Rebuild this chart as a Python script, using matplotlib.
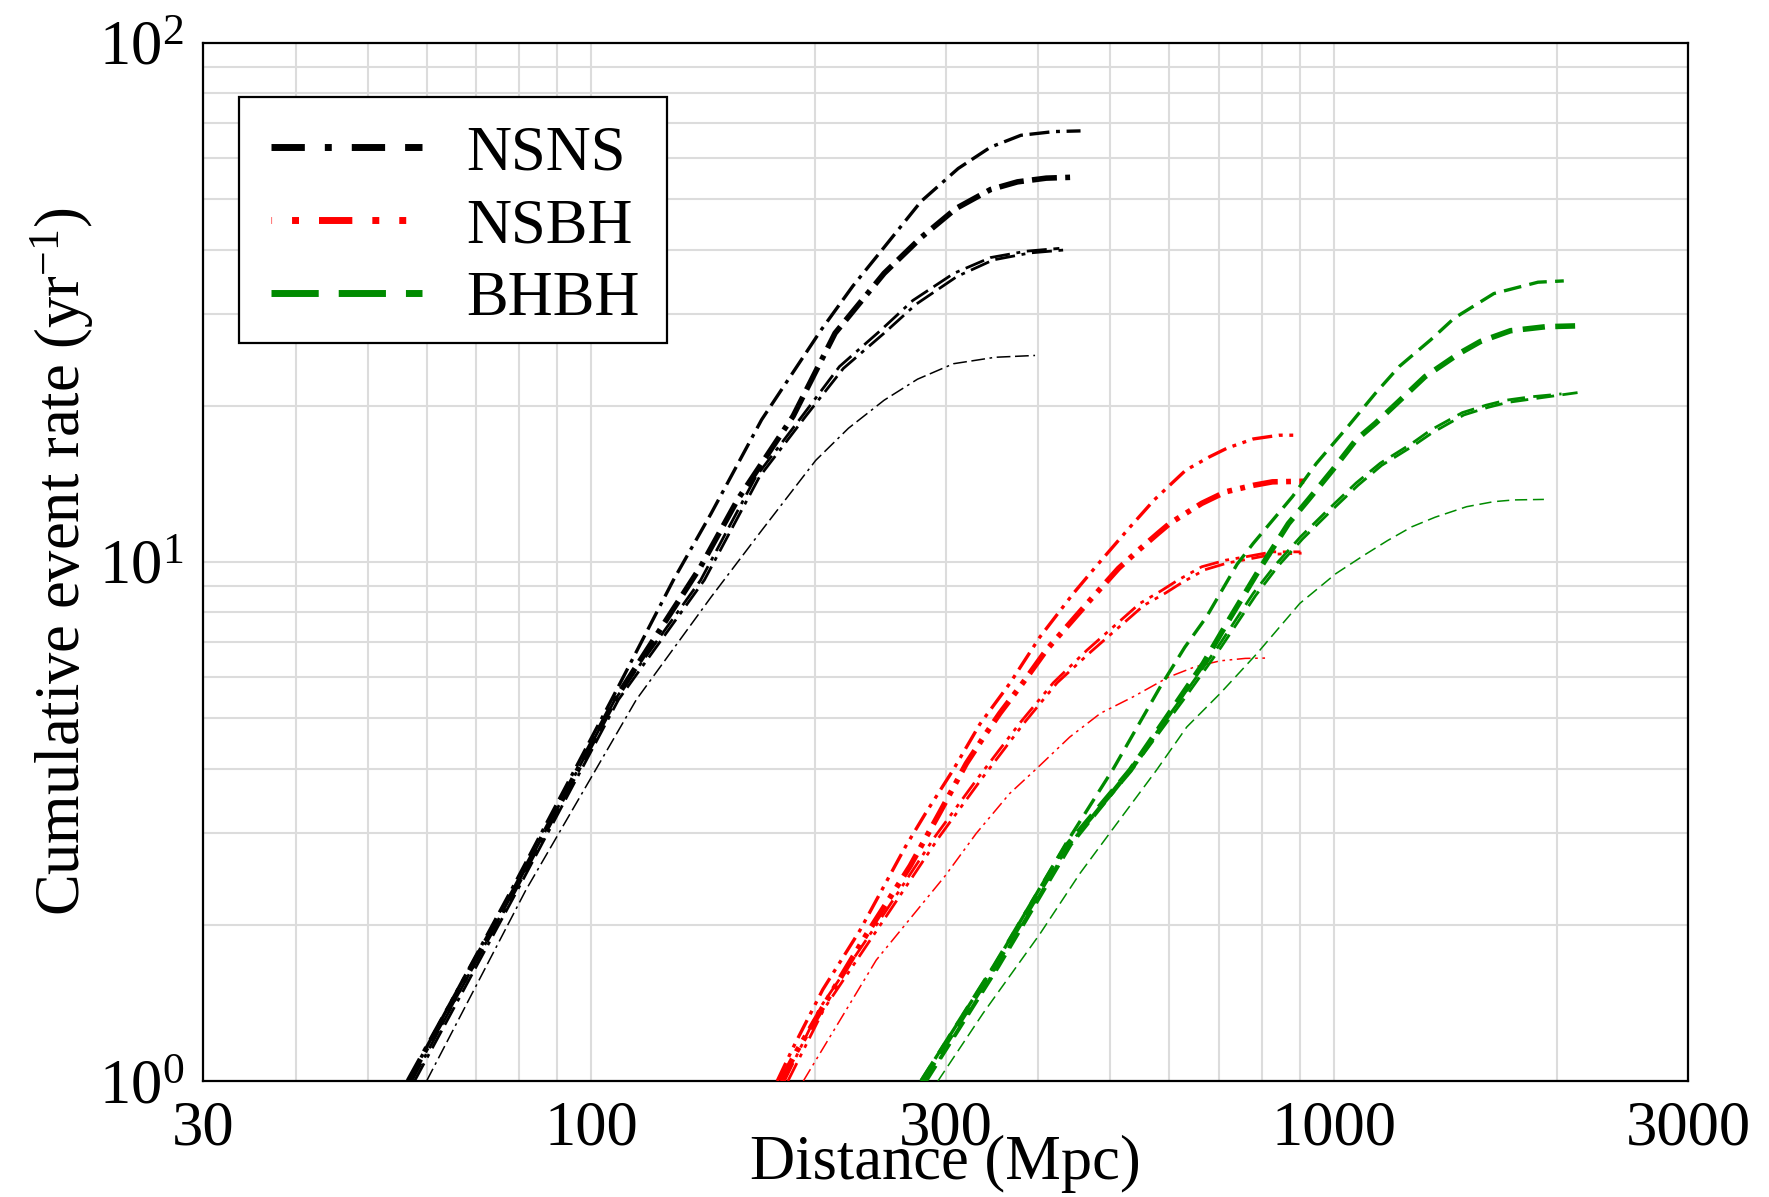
import matplotlib
matplotlib.use("Agg")
import matplotlib.pyplot as plt
from matplotlib.lines import Line2D
from matplotlib.patches import Rectangle
from matplotlib.ticker import FixedLocator, NullFormatter, LogFormatterMathtext

plt.rcParams['font.family'] = ['Liberation Serif', 'DejaVu Serif']
plt.rcParams['mathtext.fontset'] = 'custom'
plt.rcParams['mathtext.rm'] = 'Liberation Serif'
plt.rcParams['mathtext.it'] = 'Liberation Serif:italic'
plt.rcParams['mathtext.bf'] = 'Liberation Serif:bold'
plt.rcParams['lines.scale_dashes'] = False

# ---------------- data (distance in Mpc, cumulative rate in 1/yr) ----------------
# NSNS
nsns_a_x = [56.7, 78.0, 106.5, 129, 145, 169.6, 204, 225, 248, 278, 312, 345, 379, 420, 456]
nsns_a_y = [1.0, 2.33, 5.43, 9.23, 12.4, 18.8, 28.0, 34.0, 40.4, 49.5, 57.3, 63.0, 66.4, 67.5, 67.7]
nsns_b_x = [56.7, 78.7, 107.6, 140.4, 157.5, 187, 213, 248, 278.7, 310, 345, 375, 410, 442]
nsns_b_y = [1.0, 2.33, 5.43, 9.80, 13.2, 19.1, 27.6, 36.0, 42.3, 48.0, 52.2, 54.0, 54.9, 55.1]
nsns_c_x = [57.3, 78.7, 107.6, 140.4, 166.6, 192.3, 215.9, 245, 271, 308, 345, 385, 427]
nsns_c_y = [1.0, 2.33, 5.43, 9.23, 14.6, 19.1, 23.8, 27.9, 31.9, 36.0, 38.6, 39.7, 40.2]
nsns_c2_x = [57.8, 79.5, 108.8, 142, 168.5, 194.5, 218.5, 248, 274, 311, 348, 390, 432]
nsns_c2_y = [1.0, 2.33, 5.43, 9.23, 14.6, 19.1, 23.6, 27.6, 31.4, 35.5, 38.2, 39.4, 39.9]
nsns_d_x = [60.0, 81.6, 115, 145, 169.6, 200.6, 222, 248, 275, 307.5, 350, 396]
nsns_d_y = [1.0, 2.33, 5.43, 8.56, 11.5, 15.7, 18.1, 20.5, 22.5, 24.1, 24.8, 25.0]

# NSBH
nsbh_e_x = [178, 187, 205, 230, 265, 282, 307, 334, 366, 402, 446, 480, 532, 573, 632, 680, 719, 779, 844, 892]
nsbh_e_y = [1.0, 1.16, 1.50, 1.95, 2.83, 3.28, 3.97, 4.88, 5.83, 7.17, 8.70, 9.86, 11.69, 13.17, 15.03, 15.94, 16.58, 17.26, 17.55, 17.55]
nsbh_f_x = [180, 189, 210, 235, 269, 295, 320, 339, 355, 382, 410.6, 472, 513, 546, 580, 602, 664, 715, 779, 827, 918]
nsbh_f_y = [1.0, 1.14, 1.47, 1.92, 2.60, 3.30, 4.09, 4.64, 5.11, 5.87, 6.78, 8.51, 9.72, 10.54, 11.36, 11.88, 12.97, 13.65, 14.05, 14.27, 14.31]
nsbh_g_x = [182, 203, 249, 290, 330.5, 378, 419, 465, 548, 587, 617, 664, 715, 760, 827, 902]
nsbh_g_y = [1.0, 1.38, 2.12, 2.95, 3.81, 4.90, 5.85, 6.76, 8.32, 8.82, 9.23, 9.79, 10.08, 10.23, 10.46, 10.46]
nsbh_g2_x = [184, 206, 252, 294, 335, 383, 424, 470, 555, 594, 624, 670, 720, 765, 830, 905]
nsbh_g2_y = [1.0, 1.38, 2.12, 2.95, 3.81, 4.90, 5.85, 6.70, 8.25, 8.72, 9.12, 9.66, 9.96, 10.12, 10.35, 10.40]
nsbh_h_x = [193, 242, 300, 330, 366, 398, 441, 485, 537, 599, 650, 703, 760, 812]
nsbh_h_y = [1.0, 1.71, 2.49, 3.0, 3.58, 4.0, 4.60, 5.11, 5.50, 6.0, 6.28, 6.45, 6.52, 6.53]

# BHBH
bhbh_i_x = [278, 350, 436, 505, 584, 630, 674, 741, 779, 880, 947, 1045, 1138, 1225, 1351, 1453, 1643, 1884, 2041]
bhbh_i_y = [1.0, 1.68, 2.87, 4.0, 5.75, 6.85, 7.84, 9.9, 10.86, 13.37, 15.47, 18.24, 21.14, 23.8, 26.8, 29.5, 32.9, 34.6, 34.8]
bhbh_j_x = [279, 349, 436, 532, 600, 667, 725, 798, 869, 925, 995, 1072, 1138, 1255, 1327, 1474, 1576, 1730, 1930, 2114]
bhbh_j_y = [1.0, 1.66, 2.83, 3.97, 5.1, 6.37, 7.8, 9.79, 11.86, 13.2, 15.0, 17.2, 18.5, 21.1, 22.75, 25.2, 26.6, 27.9, 28.4, 28.5]
bhbh_k_x = [282, 352, 440, 532, 621, 700, 779, 838, 902, 982, 1072, 1155, 1274, 1351, 1490, 1604, 1707, 1838, 2027]
bhbh_k_y = [1.0, 1.66, 2.85, 4.0, 5.42, 6.9, 8.70, 9.94, 11.18, 12.6, 14.2, 15.5, 16.92, 17.96, 19.4, 20.05, 20.5, 20.8, 21.08]
bhbh_k2_x = [283, 354, 443, 536, 626, 705, 785, 843, 908, 988, 1078, 1160, 1280, 1358, 1497, 1612, 1715, 1845, 2130]
bhbh_k2_y = [1.0, 1.66, 2.85, 4.0, 5.40, 6.85, 8.62, 9.85, 11.08, 12.48, 14.05, 15.35, 16.75, 17.75, 19.2, 19.85, 20.3, 20.6, 21.2]
bhbh_l_x = [293, 337, 402, 455, 510, 577, 634, 703, 788, 900, 1007, 1098, 1182, 1274, 1370, 1510, 1643, 1749, 1919]
bhbh_l_y = [1.0, 1.35, 1.92, 2.51, 3.13, 3.97, 4.81, 5.58, 6.66, 8.32, 9.5, 10.3, 11.0, 11.69, 12.2, 12.78, 13.07, 13.17, 13.2]

legend_labels = ["NSNS", "NSBH", "BHBH"]
x_ticks = [30, 100, 300, 1000, 3000]
x_ticklabels = ["30", "100", "300", "1000", "3000"]

# ---------------- styles ----------------
BLACK = "black"
RED = "#ff0000"
GREEN = "#008b00"

fig = plt.figure(figsize=(17.69, 11.97), dpi=100)
ax = fig.add_axes([0.1148, 0.0969, 0.8394, 0.8672])
ax.set_xscale("log")
ax.set_yscale("log")
ax.set_xlim(30, 3000)
ax.set_ylim(1, 100)

def dd(s, pat):
    return [p * s for p in pat]

dashdot = [18, 6, 3.5, 6, 18, 6]
dashdotdot = [18, 6, 3.5, 6, 3.5, 6]
dashed = [16, 7.5]

curves = [
    # NSNS
    (nsns_a_x, nsns_a_y, BLACK, 2.4, dd(0.8, dashdot)),
    (nsns_b_x, nsns_b_y, BLACK, 4.0, dd(1.0, dashdot)),
    (nsns_c_x, nsns_c_y, BLACK, 2.0, dd(0.8, dashdot)),
    (nsns_c2_x, nsns_c2_y, BLACK, 2.0, dd(0.8, dashdot)),
    (nsns_d_x, nsns_d_y, BLACK, 1.1, dd(0.55, dashdot)),
    # NSBH
    (nsbh_e_x, nsbh_e_y, RED, 2.4, dd(0.8, dashdotdot)),
    (nsbh_f_x, nsbh_f_y, RED, 4.0, dd(1.0, dashdotdot)),
    (nsbh_g_x, nsbh_g_y, RED, 2.0, dd(0.8, dashdotdot)),
    (nsbh_g2_x, nsbh_g2_y, RED, 2.0, dd(0.8, dashdotdot)),
    (nsbh_h_x, nsbh_h_y, RED, 1.1, dd(0.55, dashdotdot)),
    # BHBH
    (bhbh_i_x, bhbh_i_y, GREEN, 2.4, dd(0.8, dashed)),
    (bhbh_j_x, bhbh_j_y, GREEN, 4.0, dd(1.0, dashed)),
    (bhbh_k_x, bhbh_k_y, GREEN, 2.0, dd(0.8, dashed)),
    (bhbh_k2_x, bhbh_k2_y, GREEN, 2.0, dd(0.8, dashed)),
    (bhbh_l_x, bhbh_l_y, GREEN, 1.1, dd(0.55, dashed)),
]
for x, y, c, lw, pat in curves:
    ax.plot(x, y, color=c, lw=lw, dashes=pat, dash_capstyle="butt", zorder=3)

# ---------------- grid / ticks ----------------
ax.xaxis.set_major_locator(FixedLocator(x_ticks))
ax.set_xticklabels(x_ticklabels)
minor_x = [v * m for v in (10, 100, 1000) for m in range(2, 10) if 30 < v * m < 3000]
ax.xaxis.set_minor_locator(FixedLocator(minor_x))
ax.xaxis.set_minor_formatter(NullFormatter())
ax.yaxis.set_major_locator(FixedLocator([1, 10, 100]))
ax.yaxis.set_major_formatter(LogFormatterMathtext())
ax.yaxis.set_minor_locator(FixedLocator([v * m for v in (1, 10) for m in range(2, 10)]))
ax.yaxis.set_minor_formatter(NullFormatter())

ax.grid(True, which="both", color="#dcdcdc", lw=1.5, zorder=0)
ax.set_axisbelow(True)
ax.tick_params(which="both", length=0)
ax.tick_params(axis="x", labelsize=45, pad=14)
ax.tick_params(axis="y", labelsize=45, pad=14)
for s in ax.spines.values():
    s.set_linewidth(1.6)
    s.set_color("black")

ax.set_xlabel("Distance (Mpc)", fontsize=45, labelpad=-17)
ax.set_ylabel("Cumulative event rate (yr$^{-1}$)", fontsize=45, labelpad=2)

# ---------------- legend ----------------
frame = Rectangle((0.0242, 0.7109), 0.3125 - 0.0242, 0.9479 - 0.7109, transform=ax.transAxes,
                  facecolor="white", edgecolor="black", lw=1.6, zorder=5)
ax.add_patch(frame)
handles = [
    Line2D([0], [0], color=BLACK, lw=5, linestyle=(0, (24, 14.4, 5, 14.4, 24, 14.4)), dash_capstyle="butt"),
    Line2D([0], [0], color=RED, lw=5, linestyle=(43, (24, 14.4, 5, 14.4, 5, 14.4)), dash_capstyle="butt"),
    Line2D([0], [0], color=GREEN, lw=5, linestyle=(0, (34, 14.4)), dash_capstyle="butt"),
]
leg = ax.legend(handles, legend_labels, loc="upper left", bbox_to_anchor=(0.0303, 0.9425),
                borderaxespad=0, fontsize=45, handlelength=2.43, handletextpad=0.70,
                labelspacing=0.24, borderpad=0.36, frameon=False)
leg.set_zorder(6)

fig.savefig("out.png", dpi=100)
